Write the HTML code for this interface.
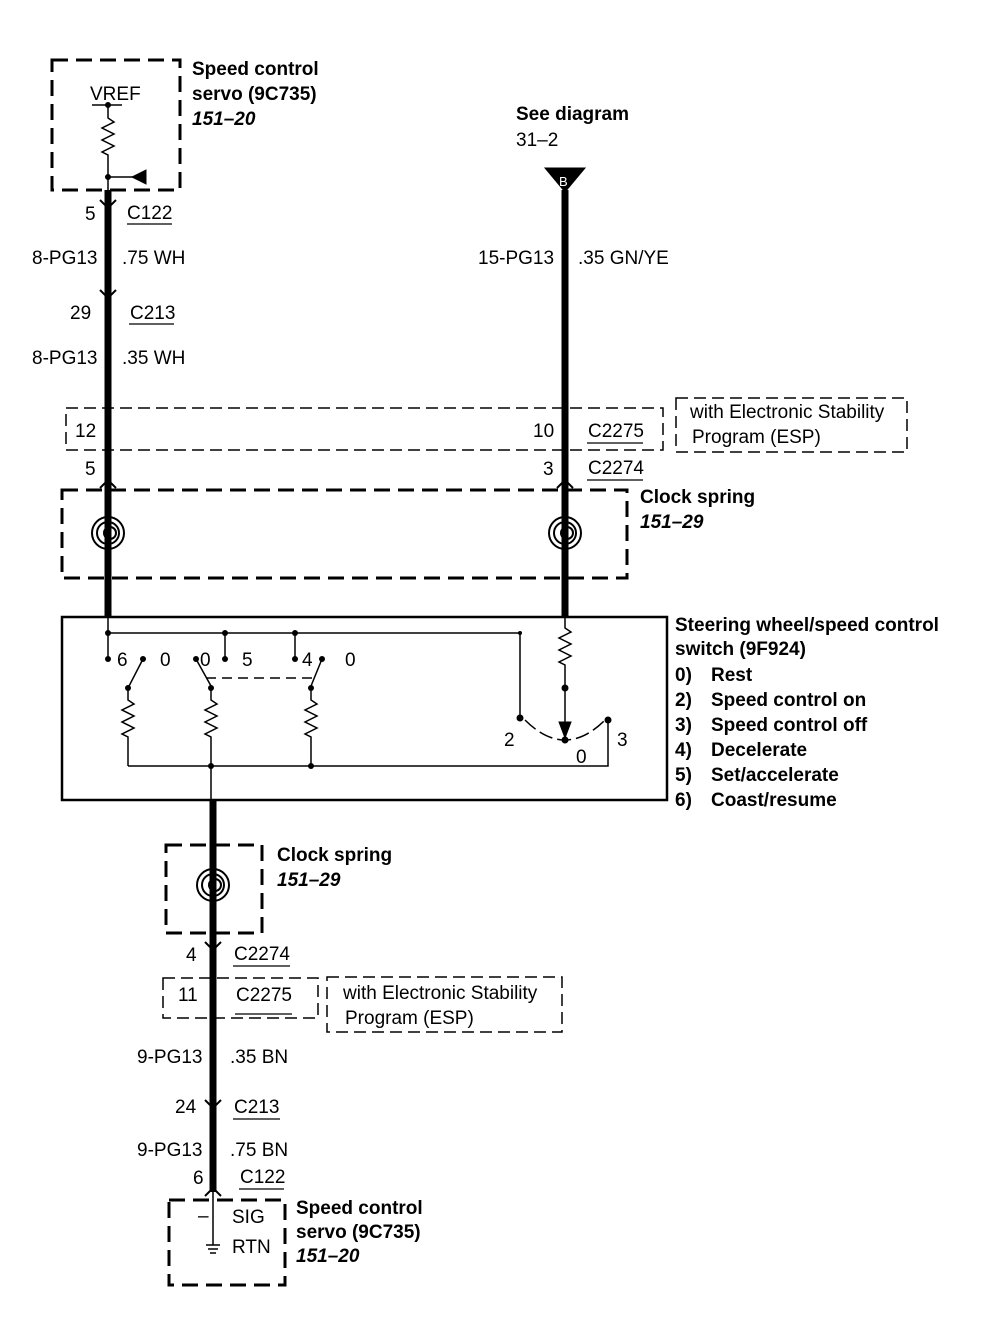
<!DOCTYPE html>
<html><head><meta charset="utf-8"><style>
body{margin:0;background:#fff}
text{font-family:"Liberation Sans",sans-serif;font-size:19px;fill:#000}
.b{font-weight:bold}.i{font-weight:bold;font-style:italic}
</style></head><body>
<svg width="984" height="1312" viewBox="0 0 984 1312" xmlns="http://www.w3.org/2000/svg">
<g fill="none" stroke="#000">
<g stroke-width="3" stroke-dasharray="16,8">
<rect x="52" y="60" width="128" height="130"/>
<rect x="62" y="490" width="565" height="88"/>
<rect x="166" y="845" width="96" height="88"/>
<rect x="169" y="1200" width="116" height="85"/>
</g>
<g stroke-width="1.5" stroke-dasharray="12,6">
<rect x="66" y="408" width="597" height="42"/>
<rect x="676" y="398" width="231" height="54"/>
<rect x="163" y="978" width="155" height="40"/>
<rect x="327" y="977" width="235" height="55"/>
</g>
<g stroke-width="7">
<line x1="108" y1="190" x2="108" y2="618"/>
<line x1="565" y1="190" x2="565" y2="618"/>
<line x1="213" y1="800" x2="213" y2="1192"/>
</g>
<g stroke-width="2">
<path d="M100 200 L108 208 L116 200"/><path d="M100 290 L108 298 L116 290"/>
<path d="M100 488 L108 480 L116 488"/><path d="M557 488 L565 480 L573 488"/>
<path d="M205 942 L213 950 L221 942"/><path d="M205 1100 L213 1108 L221 1100"/>
<path d="M205 1196 L213 1188 L221 1196"/>
</g>
<g stroke-width="1.3">
<line x1="127" y1="224" x2="172" y2="224"/><line x1="129" y1="324" x2="174" y2="324"/>
<line x1="587" y1="443" x2="643" y2="443"/><line x1="587" y1="480" x2="643" y2="480"/>
<line x1="233" y1="966" x2="290" y2="966"/><line x1="235" y1="1014" x2="292" y2="1014"/>
<line x1="233" y1="1119" x2="280" y2="1119"/><line x1="239" y1="1189" x2="284" y2="1189"/>
</g>
<g stroke-width="1.5">
<line x1="92" y1="105" x2="122" y2="105"/>
<path d="M108 105 V118 l6 4 -12 6 12 6 -12 6 12 6 -12 6 6 3 V190"/>
<path d="M108 177 H140"/>
</g>
<path d="M146 170 L146 184 L132 177 Z" fill="#000"/>
<circle cx="108" cy="105" r="2.5" fill="#000"/><circle cx="108" cy="177" r="2.5" fill="#000"/>
<path d="M545 168 H585 L565 192 Z" fill="#000"/>
<g stroke-width="2">
<circle cx="108" cy="533" r="16"/><circle cx="108" cy="533" r="11"/><circle cx="110" cy="533" r="6"/>
<circle cx="565" cy="533" r="16"/><circle cx="565" cy="533" r="11"/><circle cx="567" cy="533" r="6"/>
<circle cx="213" cy="885" r="16"/><circle cx="213" cy="885" r="11"/><circle cx="215" cy="885" r="6"/>
</g>
<rect x="62" y="617" width="605" height="183" stroke-width="2.5"/>
<g stroke-width="1.5">
<path d="M108 618 V659"/>
<path d="M108 633 H520 V718"/>
<path d="M225 633 V659"/><path d="M295 633 V659"/>
<path d="M143 659 L128 688 V700 l6 4 -12 6 12 6 -12 6 12 6 -12 6 6 3 V766"/>
<path d="M196 659 L211 686 V700 l6 4 -12 6 12 6 -12 6 12 6 -12 6 6 3 V800"/>
<path d="M322 659 L311 686 V700 l6 4 -12 6 12 6 -12 6 12 6 -12 6 6 3 V766"/>
<path d="M206 678 H316" stroke-dasharray="10,6"/>
<path d="M128 766 H608 V720"/>
<path d="M565 618 V628 l6 4 -12 6 12 6 -12 6 12 6 -12 6 6 3 V738"/>
<path d="M525 720 Q545 740 565 740 Q585 740 605 720" stroke-dasharray="14,5"/>
<path d="M213 1192 V1245"/>
<path d="M206 1245 H220 M208 1249 H218 M210 1253 H216"/>
</g>
<path d="M559 722 L565 738 L571 722 Z" fill="#000"/>
</g>
<g fill="#000">
<circle cx="108" cy="633" r="3"/><circle cx="225" cy="633" r="3"/><circle cx="295" cy="633" r="3"/><circle cx="520" cy="633" r="2"/>
<circle cx="108" cy="659" r="3"/><circle cx="143" cy="659" r="3"/><circle cx="196" cy="659" r="3"/><circle cx="225" cy="659" r="3"/><circle cx="295" cy="659" r="3"/><circle cx="322" cy="659" r="3"/>
<circle cx="128" cy="688" r="3"/><circle cx="211" cy="688" r="3"/><circle cx="311" cy="688" r="3"/>
<circle cx="211" cy="766" r="3"/><circle cx="311" cy="766" r="3"/>
<circle cx="520" cy="718" r="3.5"/><circle cx="608" cy="720" r="3.5"/><circle cx="565" cy="688" r="3.5"/><circle cx="565" cy="740" r="3.5"/>
</g>
<text x="90" y="100">VREF</text>
<text x="192" y="75" class="b">Speed control</text>
<text x="192" y="100" class="b">servo (9C735)</text>
<text x="192" y="125" class="i">151–20</text>
<text x="516" y="120" class="b">See diagram</text>
<text x="516" y="146">31–2</text>
<text x="559" y="186" style="fill:#fff;font-size:13px">B</text>
<text x="85" y="220">5</text><text x="127" y="219">C122</text>
<text x="32" y="264">8-PG13</text><text x="122" y="264">.75 WH</text>
<text x="70" y="319">29</text><text x="130" y="319">C213</text>
<text x="32" y="364">8-PG13</text><text x="122" y="364">.35 WH</text>
<text x="478" y="264">15-PG13</text><text x="578" y="264">.35 GN/YE</text>
<text x="75" y="437">12</text><text x="533" y="437">10</text><text x="588" y="437">C2275</text>
<text x="690" y="418">with Electronic Stability</text><text x="692" y="443">Program (ESP)</text>
<text x="85" y="475">5</text><text x="543" y="475">3</text><text x="588" y="474">C2274</text>
<text x="640" y="503" class="b">Clock spring</text><text x="640" y="528" class="i">151–29</text>
<g style="font-size:17px">
<text x="117" y="666">6</text><text x="160" y="666">0</text><text x="200" y="666">0</text><text x="242" y="666">5</text><text x="302" y="666">4</text><text x="345" y="666">0</text>
<text x="504" y="746">2</text><text x="576" y="763">0</text><text x="617" y="746">3</text>
</g>
<text x="675" y="631" class="b">Steering wheel/speed control</text>
<text x="675" y="655" class="b">switch (9F924)</text>
<g class="b">
<text x="675" y="681">0)</text><text x="711" y="681">Rest</text>
<text x="675" y="706">2)</text><text x="711" y="706">Speed control on</text>
<text x="675" y="731">3)</text><text x="711" y="731">Speed control off</text>
<text x="675" y="756">4)</text><text x="711" y="756">Decelerate</text>
<text x="675" y="781">5)</text><text x="711" y="781">Set/accelerate</text>
<text x="675" y="806">6)</text><text x="711" y="806">Coast/resume</text>
</g>
<text x="277" y="861" class="b">Clock spring</text><text x="277" y="886" class="i">151–29</text>
<text x="186" y="961">4</text><text x="234" y="960">C2274</text>
<text x="178" y="1001">11</text><text x="236" y="1001">C2275</text>
<text x="343" y="999">with Electronic Stability</text><text x="345" y="1024">Program (ESP)</text>
<text x="137" y="1063">9-PG13</text><text x="230" y="1063">.35 BN</text>
<text x="175" y="1113">24</text><text x="234" y="1113">C213</text>
<text x="137" y="1156">9-PG13</text><text x="230" y="1156">.75 BN</text>
<text x="193" y="1184">6</text><text x="240" y="1183">C122</text>
<text x="198" y="1222">–</text><text x="232" y="1223">SIG</text><text x="232" y="1253">RTN</text>
<text x="296" y="1214" class="b">Speed control</text>
<text x="296" y="1238" class="b">servo (9C735)</text>
<text x="296" y="1262" class="i">151–20</text>
</svg>
</body></html>
